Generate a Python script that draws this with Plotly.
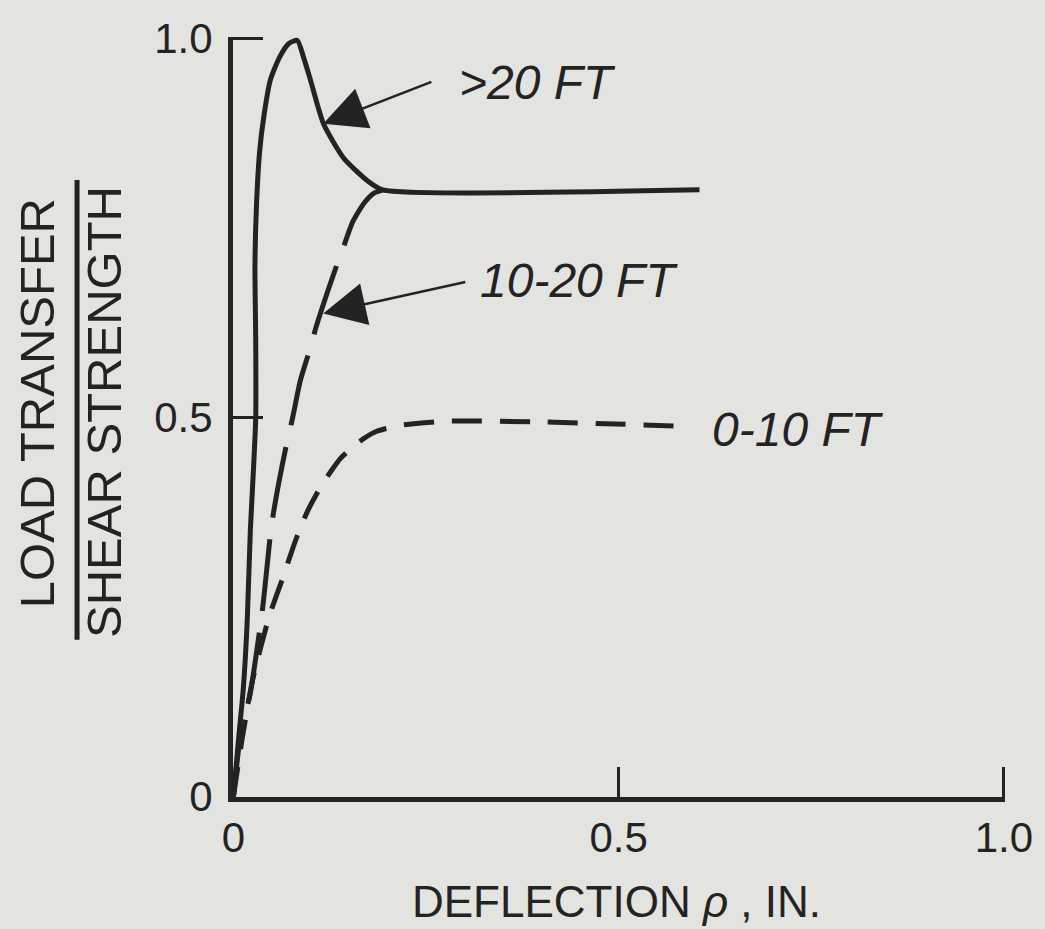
import plotly.graph_objects as go

# ---- data ----
gt20_x = [0, 0.007, 0.013, 0.018, 0.022, 0.026, 0.029, 0.029, 0.028, 0.030, 0.034, 0.040,
          0.048, 0.060, 0.072, 0.083, 0.091, 0.100, 0.117, 0.143, 0.174, 0.194, 0.605]
gt20_y = [0, 0.079, 0.144, 0.233, 0.351, 0.43, 0.50, 0.60, 0.70, 0.78, 0.85, 0.90,
          0.945, 0.975, 0.993, 0.997, 0.975, 0.945, 0.887, 0.842, 0.812, 0.800, 0.800]

mid_x = [0, 0.009, 0.022, 0.038, 0.048, 0.052, 0.068, 0.077, 0.087, 0.100, 0.107,
         0.122, 0.135, 0.142, 0.155, 0.170, 0.183, 0.194]
mid_y = [0, 0.079, 0.137, 0.249, 0.345, 0.374, 0.460, 0.500, 0.549, 0.592, 0.618,
         0.665, 0.703, 0.722, 0.758, 0.783, 0.796, 0.800]

low_x = [0, 0.012, 0.025, 0.046, 0.064, 0.078, 0.087, 0.098, 0.113, 0.126, 0.139,
         0.155, 0.169, 0.187, 0.22, 0.278, 0.40, 0.595]
low_y = [0, 0.08, 0.154, 0.236, 0.288, 0.33, 0.355, 0.38, 0.408, 0.428, 0.446,
         0.461, 0.472, 0.482, 0.490, 0.495, 0.494, 0.488]

tick_vals = [0, 0.5, 1.0]
tick_text = ["0", "0.5", "1.0"]

labels = [">20 FT", "10-20 FT", "0-10 FT"]
label_pos = [(0.290, 0.941), (0.318, 0.680), (0.618, 0.484)]
# arrows: (tip x, tip y, tail x, tail y) in data units
arrows = [(0.1166, 0.887, 0.259, 0.943), (0.1166, 0.637, 0.303, 0.679)]

INK = "#232323"
BG = "#e3e4e0"
FONT = "Liberation Sans, Arial, Helvetica, sans-serif"

fig = go.Figure()
fig.add_trace(go.Scatter(x=gt20_x, y=gt20_y, mode="lines", line=dict(color=INK, width=5, shape="spline", smoothing=0.6),
                         cliponaxis=False, showlegend=False))
fig.add_trace(go.Scatter(x=mid_x, y=mid_y, mode="lines", line=dict(color=INK, width=5, dash="72px,22px", shape="spline", smoothing=0.6),
                         cliponaxis=False, showlegend=False))
fig.add_trace(go.Scatter(x=low_x, y=low_y, mode="lines", line=dict(color=INK, width=5, dash="30px,18px", shape="spline", smoothing=0.6),
                         cliponaxis=False, showlegend=False))

annotations = []
for t, (lx, ly) in zip(labels, label_pos):
    annotations.append(dict(x=lx, y=ly, xref="x", yref="y", text=t, showarrow=False,
                            xanchor="left", yanchor="middle",
                            font=dict(family=FONT, size=48, color=INK, style="italic")))
for (tx, ty, sx, sy) in arrows:
    annotations.append(dict(x=tx, y=ty, xref="x", yref="y", ax=sx, ay=sy, axref="x", ayref="y",
                            text="", showarrow=True, arrowhead=2, arrowsize=3.4, arrowwidth=2.5,
                            arrowcolor=INK))
# y-axis title as a fraction
annotations.append(dict(x=-0.254, y=0.518, xref="paper", yref="paper", text="LOAD TRANSFER",
                        textangle=-90, showarrow=False, xanchor="center", yanchor="middle",
                        font=dict(family=FONT, size=49, color=INK)))
annotations.append(dict(x=-0.168, y=0.507, xref="paper", yref="paper", text="SHEAR STRENGTH",
                        textangle=-90, showarrow=False, xanchor="center", yanchor="middle",
                        font=dict(family=FONT, size=49, color=INK)))
annotations.append(dict(x=0.497, y=-0.137, xref="paper", yref="paper",
                        text="DEFLECTION <i>ρ</i> , IN.", showarrow=False, borderpad=0,
                        xanchor="center", yanchor="middle",
                        font=dict(family=FONT, size=44, color=INK)))

fig.add_shape(type="line", xref="paper", yref="paper", x0=-0.202, x1=-0.202, y0=0.207, y1=0.812,
              line=dict(color=INK, width=5))

axis_common = dict(range=[-0.0005, 1.0015], tickvals=tick_vals, ticktext=tick_text, showgrid=False,
                   zeroline=False, showline=True, linewidth=5, linecolor=INK,
                   ticks="inside", ticklen=30, tickwidth=3, tickcolor=INK,
                   tickfont=dict(family=FONT, size=42, color=INK), automargin=False)

fig.update_layout(
    width=1045, height=929,
    margin=dict(l=233, r=40, t=37, b=132, autoexpand=False),
    paper_bgcolor=BG, plot_bgcolor=BG,
    xaxis=dict(**axis_common, ticklabelstandoff=0),
    yaxis=dict(**axis_common, ticklabelstandoff=7),
    annotations=annotations,
    showlegend=False,
)

fig.write_html("out.html", config={"displayModeBar": False},
               post_script="document.body.style.margin='0px';document.body.style.overflow='hidden';"
                           "document.body.style.background='" + BG + "';")
